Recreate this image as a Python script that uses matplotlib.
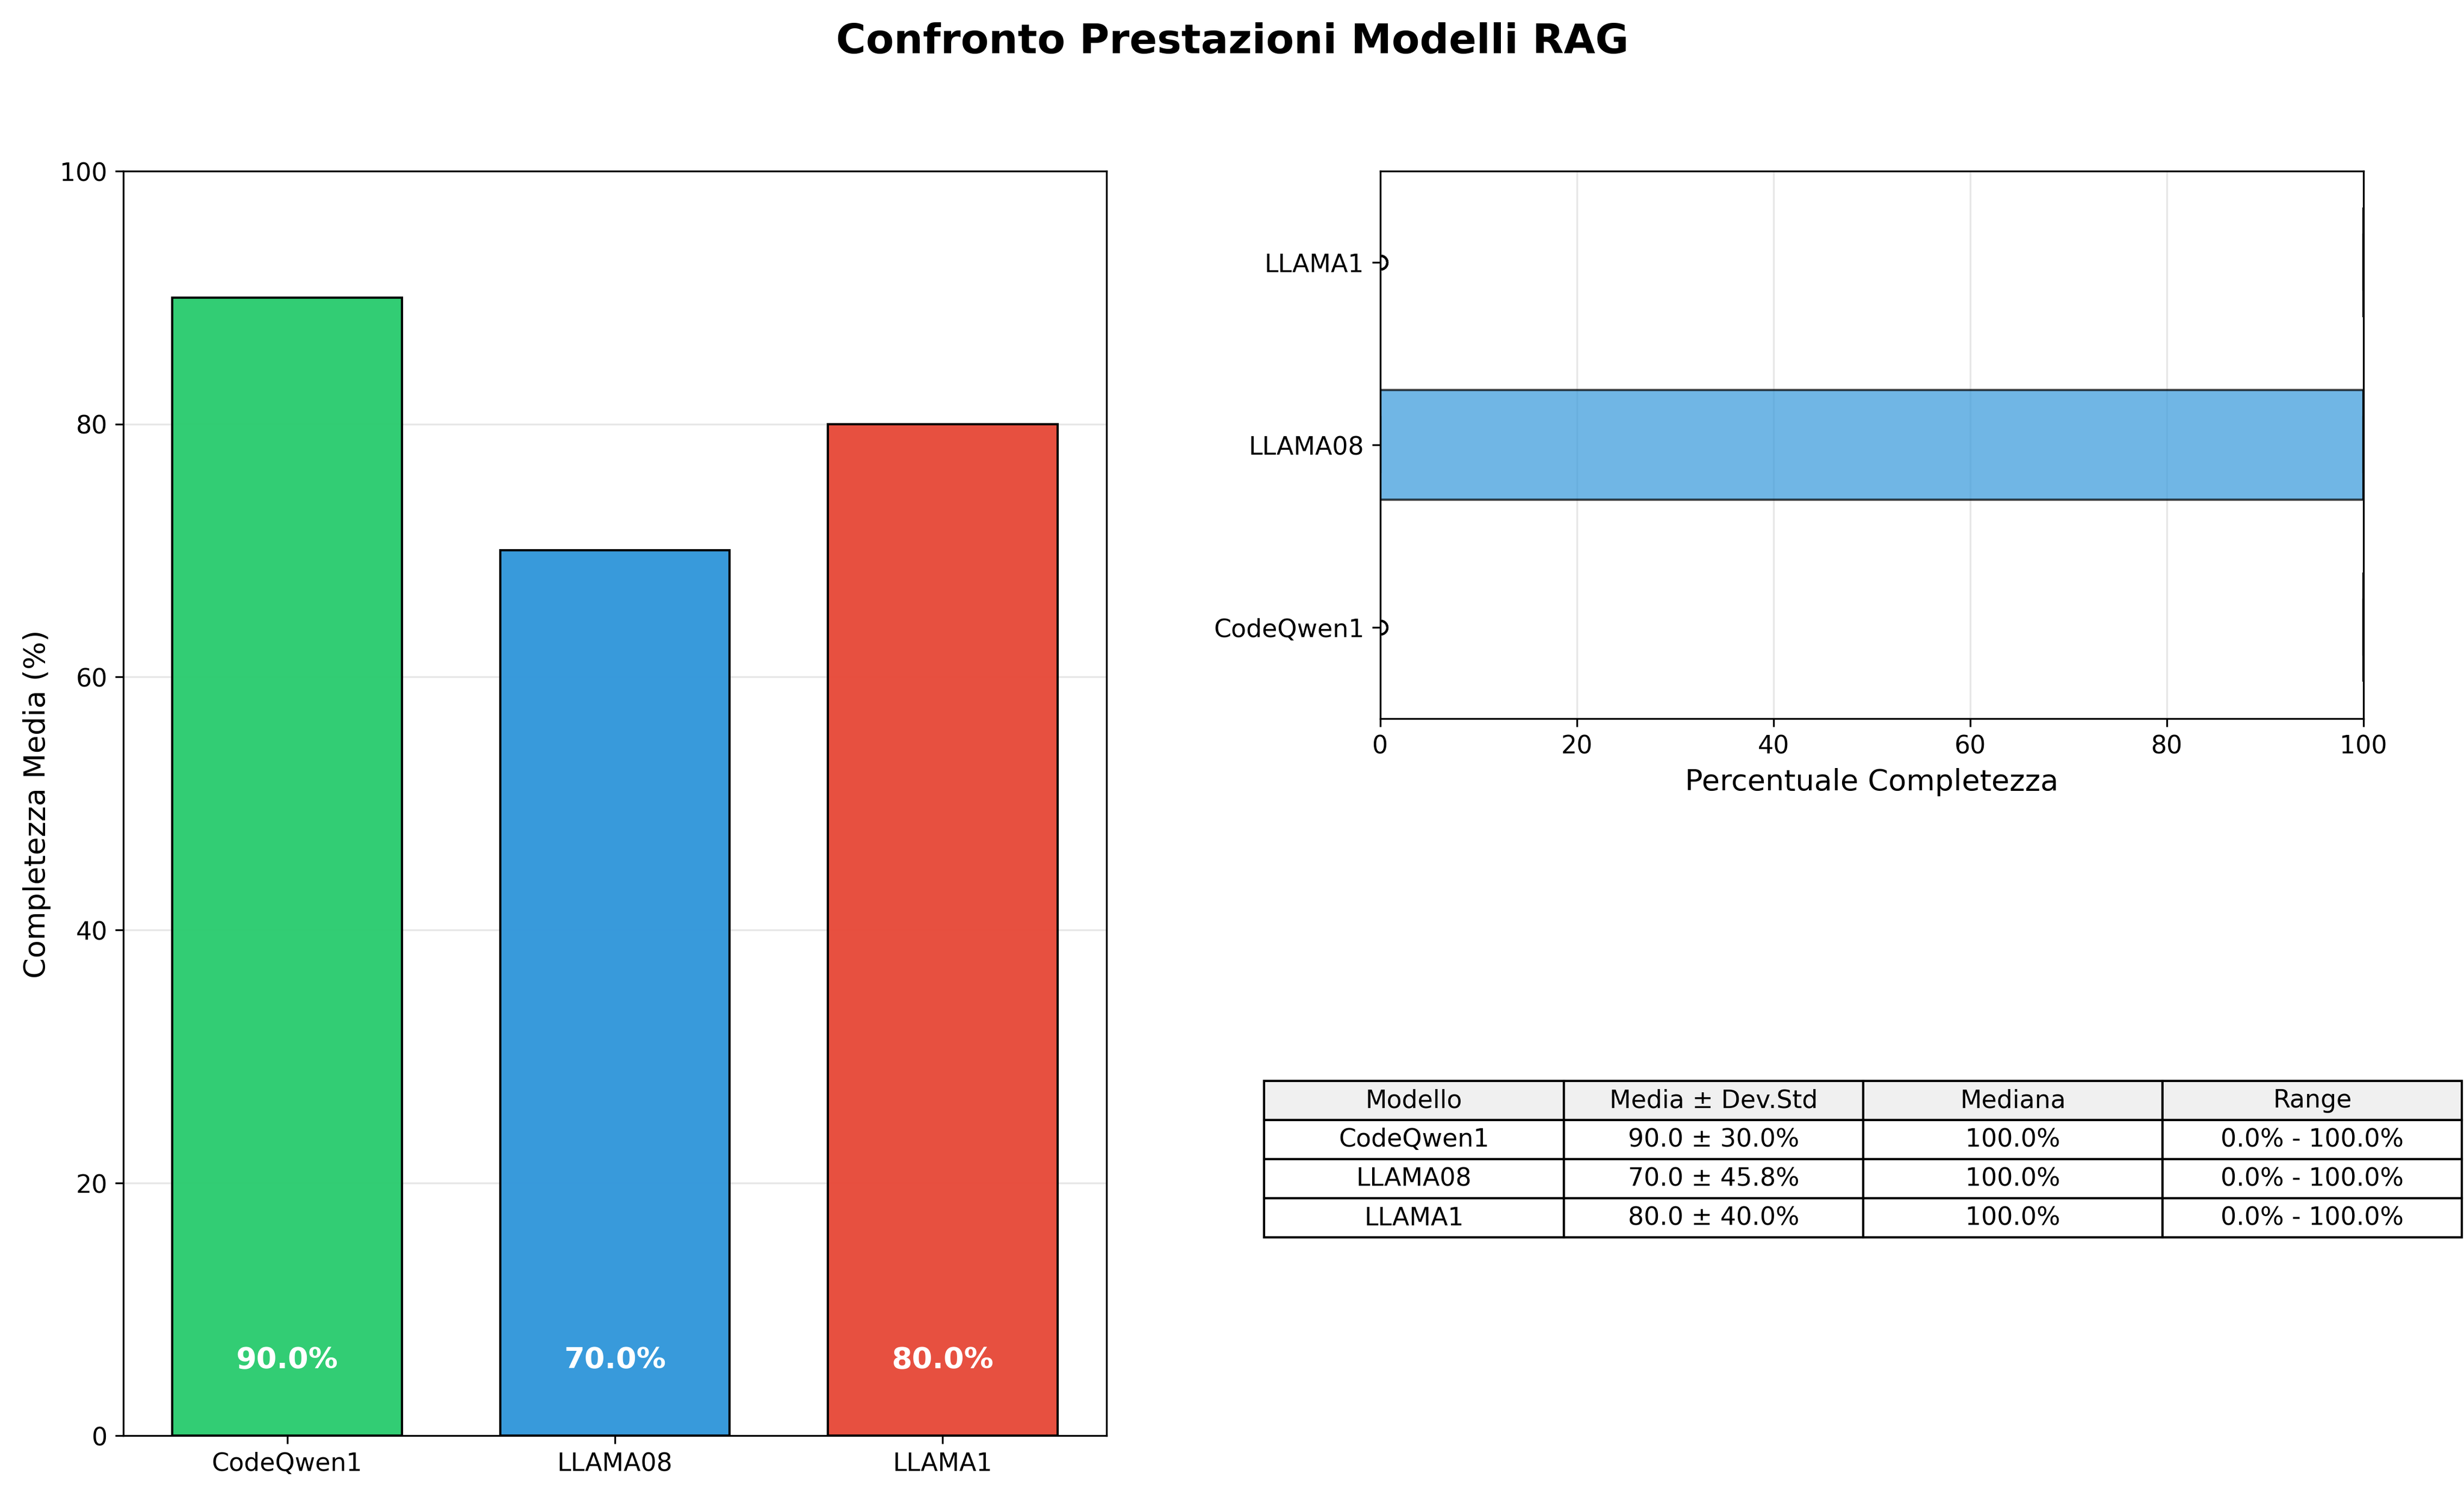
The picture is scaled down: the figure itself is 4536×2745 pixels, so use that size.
import matplotlib
matplotlib.use("Agg")
import matplotlib.pyplot as plt
import numpy as np

models = ["CodeQwen1", "LLAMA08", "LLAMA1"]
colors = ["#2ecc71", "#3498db", "#e74c3c"]
# per-run completeness scores (20 runs each)
scores = {
    "CodeQwen1": [100] * 18 + [0] * 2,
    "LLAMA08": [100] * 14 + [0] * 6,
    "LLAMA1": [100] * 16 + [0] * 4,
}
table_cols = ["Modello", "Media ± Dev.Std", "Mediana", "Range"]

means = [np.mean(scores[m]) for m in models]

fig = plt.figure(figsize=(15.123, 9.153), dpi=300)
fig.suptitle("Confronto Prestazioni Modelli RAG", fontsize=18, fontweight="bold", y=0.985)

# --- left: mean completeness bars ---
ax1 = fig.add_axes([0.05, 0.037, 0.399, 0.848])
x = np.arange(len(models))
ax1.bar(x, means, width=0.7, color=colors, edgecolor="black", linewidth=1, alpha=0.98)
for xi, v in zip(x, means):
    ax1.text(xi, 6, f"{v:.1f}%", ha="center", va="center", color="white",
             fontsize=13, fontweight="bold")
ax1.set_xticks(x)
ax1.set_xticklabels(models, fontsize=11)
ax1.set_ylim(0, 100)
ax1.set_xlim(-0.5, 2.5)
ax1.set_ylabel("Completezza Media (%)", fontsize=13)
ax1.tick_params(axis="y", labelsize=11)
ax1.grid(axis="y", alpha=0.3)
ax1.set_axisbelow(True)

# --- right top: distribution boxplot ---
ax2 = fig.add_axes([0.56, 0.518, 0.399, 0.367])
bp = ax2.boxplot([scores[m] for m in models], vert=False, patch_artist=True,
                 tick_labels=models, widths=0.6)
for patch, c in zip(bp["boxes"], colors):
    patch.set_facecolor(c)
    patch.set_alpha(0.7)
for med in bp["medians"]:
    med.set_color("black")
ax2.set_xlim(0, 100)
ax2.set_xlabel("Percentuale Completezza", fontsize=13)
ax2.tick_params(labelsize=11)
ax2.grid(axis="x", alpha=0.3)

# --- right bottom: summary table ---
ax3 = fig.add_axes([0, 0, 1, 1])
ax3.axis("off")
rows = []
for m in models:
    s = np.array(scores[m])
    rows.append([m, f"{s.mean():.1f} ± {s.std():.1f}%", f"{np.median(s):.1f}%",
                 f"{s.min():.1f}% - {s.max():.1f}%"])
tbl = ax3.table(cellText=rows, colLabels=table_cols, cellLoc="center",
                bbox=[0.513, 0.170, 0.486, 0.105])
tbl.auto_set_font_size(False)
tbl.set_fontsize(11)
for j in range(len(table_cols)):
    tbl[0, j].set_facecolor("#f0f0f0")

fig.savefig("out.png", dpi=300)
